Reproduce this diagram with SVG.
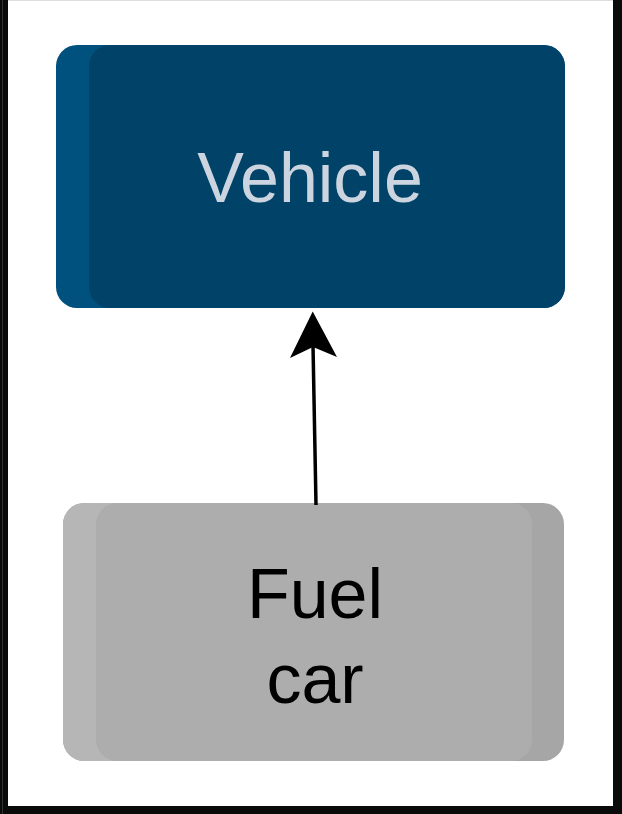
<svg xmlns="http://www.w3.org/2000/svg" width="622" height="814" viewBox="0 0 622 814">
<style>
.lbl{font-family:"Liberation Sans",Arial,sans-serif;font-size:70px;text-anchor:middle}
</style>
<defs>
<clipPath id="cv"><rect x="56" y="45" width="509" height="263" rx="21"/></clipPath>
<clipPath id="cf"><rect x="63" y="503" width="501" height="258" rx="21"/></clipPath>
</defs>
<rect x="0" y="0" width="622" height="814" fill="#0a0a0a"/>
<rect x="2" y="0" width="1" height="814" fill="#333"/>
<rect x="8" y="0" width="605" height="806" fill="#ffffff"/>
<rect x="8" y="0" width="605" height="1" fill="#dddddd"/>
<g id="vehicle">
<rect x="56" y="45" width="509" height="263" rx="21" fill="#01517f"/>
<rect x="89" y="45" width="476" height="263" rx="21" fill="#014368" clip-path="url(#cv)"/>
<text class="lbl" x="310" y="202" fill="#ccd5df">Vehicle</text>
</g>
<g id="fuelcar">
<rect x="63" y="503" width="501" height="258" rx="21" fill="#a6a6a6"/>
<rect x="63" y="503" width="80" height="258" rx="21" fill="#b6b6b6" clip-path="url(#cf)"/>
<rect x="96" y="503" width="436" height="258" rx="21" fill="#adadad"/>
<text class="lbl" x="315" y="618" fill="#000">Fuel</text>
<text class="lbl" x="315" y="703" fill="#000">car</text>
</g>
<g id="connectors">
<line x1="316" y1="505" x2="313" y2="345" stroke="#000" stroke-width="3.5"/>
<polygon points="312.7,311.5 337,357 313,347 290,358" fill="#000"/>
</g>
</svg>
